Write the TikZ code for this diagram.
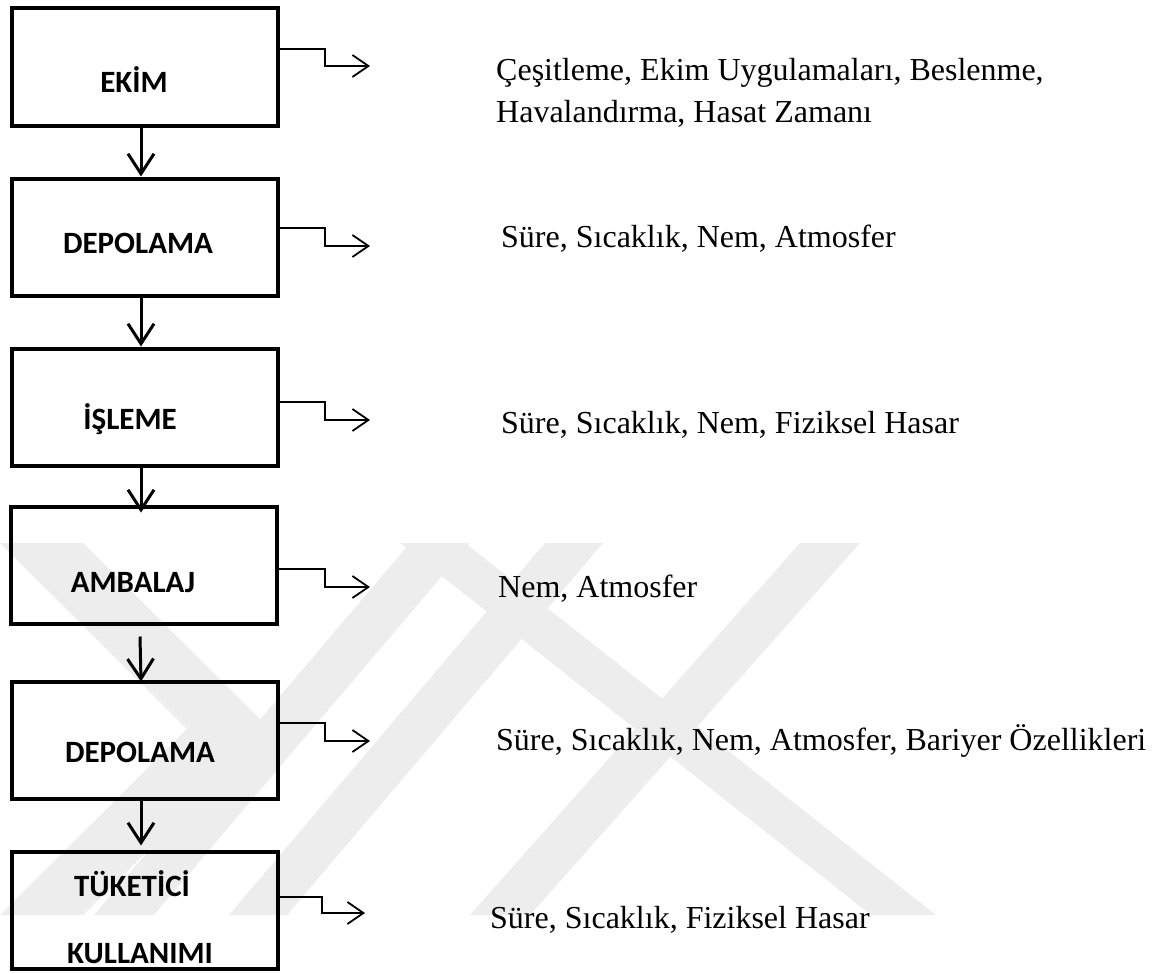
\documentclass[tikz,border=0pt]{standalone}
\usepackage{fontspec}
\setmainfont{Liberation Serif}
\newfontfamily\boxfont{Carlito}
\usetikzlibrary{arrows.meta,calc}

\begin{document}
\begin{tikzpicture}[x=1pt,y=-1pt,
  stagebox/.style={draw=black, line width=4pt, minimum width=266pt, minimum height=117pt, inner sep=0pt},
  stagelbl/.style={font=\boxfont\bfseries\fontsize{31}{36}\selectfont, inner sep=0pt},
  factor/.style={font=\fontsize{32}{42}\selectfont, anchor=base west, inner sep=0pt, align=left},
  flow/.style={line width=3pt, -{Straight Barb[length=20pt,width=26pt]}},
  side/.style={line width=1.8pt, -{Straight Barb[length=16pt,width=22pt]}},
  emblem/.style={fill=black!7, draw=none}
]
\useasboundingbox (0,0) rectangle (1164,974);

% faint background emblem
\fill[emblem] (0,543) -- (83,543) -- (270,729) -- (83,915) -- (0,915) -- (187,729) -- cycle;
\fill[emblem] (410,543) -- (470,543) -- (154,915) -- (94,915) -- cycle;
\fill[emblem] (545,543) -- (603,543) -- (287,915) -- (229,915) -- cycle;
\fill[emblem] (800,543) -- (860,543) -- (530,915) -- (470,915) -- cycle;
\fill[emblem] (400,543) -- (465,543) -- (936,915) -- (871,915) -- cycle;

% stages
\node[stagebox] (b1) at (145,67)  {};
\node[stagebox] (b2) at (145,237) {};
\node[stagebox] (b3) at (145,407) {};
\node[stagebox] (b4) at (144,565) {};
\node[stagebox] (b5) at (145,740) {};
\node[stagebox] (b6) at (145,910) {};

\node[stagelbl] (l1) at (134,80)  {EKİM};
\node[stagelbl] (l2) at (138,243) {DEPOLAMA};
\node[stagelbl] (l3) at (130,419) {İŞLEME};
\node[stagelbl] (l4) at (133,583) {AMBALAJ};
\node[stagelbl] (l5) at (140,752) {DEPOLAMA};
\node[stagelbl] (l6a) at (132,884) {TÜKETİCİ};
\node[stagelbl] (l6b) at (140,954) {KULLANIMI};

% influencing factors (base anchor sits on the last line)
\node[factor] (t1) at (496,122) {Çeşitleme, Ekim Uygulamaları, Beslenme,\\Havalandırma, Hasat Zamanı};
\node[factor] (t2) at (501,247) {Süre, Sıcaklık, Nem, Atmosfer};
\node[factor] (t3) at (501,433) {Süre, Sıcaklık, Nem, Fiziksel Hasar};
\node[factor] (t4) at (498,597) {Nem, Atmosfer};
\node[factor] (t5) at (496,750) {Süre, Sıcaklık, Nem, Atmosfer, Bariyer Özellikleri};
\node[factor] (t6) at (490,928) {Süre, Sıcaklık, Fiziksel Hasar};

% main flow
\draw[flow] ([xshift=-4pt]b1.south) -- ([xshift=-4pt]b2.north);
\draw[flow] ([xshift=-4pt]b2.south) -- ([xshift=-4pt]b3.north);
\draw[flow] ([xshift=-4pt]b3.south) -- ([xshift=-3pt,yshift=-8pt]b4.north);
\draw[flow] ([xshift=-4pt,yshift=-11pt]b4.south) -- ([xshift=-4pt,yshift=-2pt]b5.north);
\draw[flow] ([xshift=-4pt]b5.south) -- ([xshift=-4pt,yshift=4pt]b6.north);

% side branches
\coordinate (e1) at (370,66);
\coordinate (e2) at (370,246);
\coordinate (e3) at (370,420);
\coordinate (e4) at (370,587);
\coordinate (e5) at (370,741);
\coordinate (e6) at (365,913);
\draw[side] ([yshift=18pt]b1.east) -| ($(e1)+(-45,0)$) -- (e1);
\draw[side] ([yshift=9pt]b2.east)  -| ($(e2)+(-45,0)$) -- (e2);
\draw[side] ([yshift=5pt]b3.east)  -| ($(e3)+(-45,0)$) -- (e3);
\draw[side] ([yshift=-4pt]b4.east) -| ($(e4)+(-45,0)$) -- (e4);
\draw[side] ([yshift=17pt]b5.east) -| ($(e5)+(-45,0)$) -- (e5);
\draw[side] ([yshift=13pt]b6.east) -| ($(e6)+(-43,0)$) -- (e6);
\end{tikzpicture}
\end{document}
